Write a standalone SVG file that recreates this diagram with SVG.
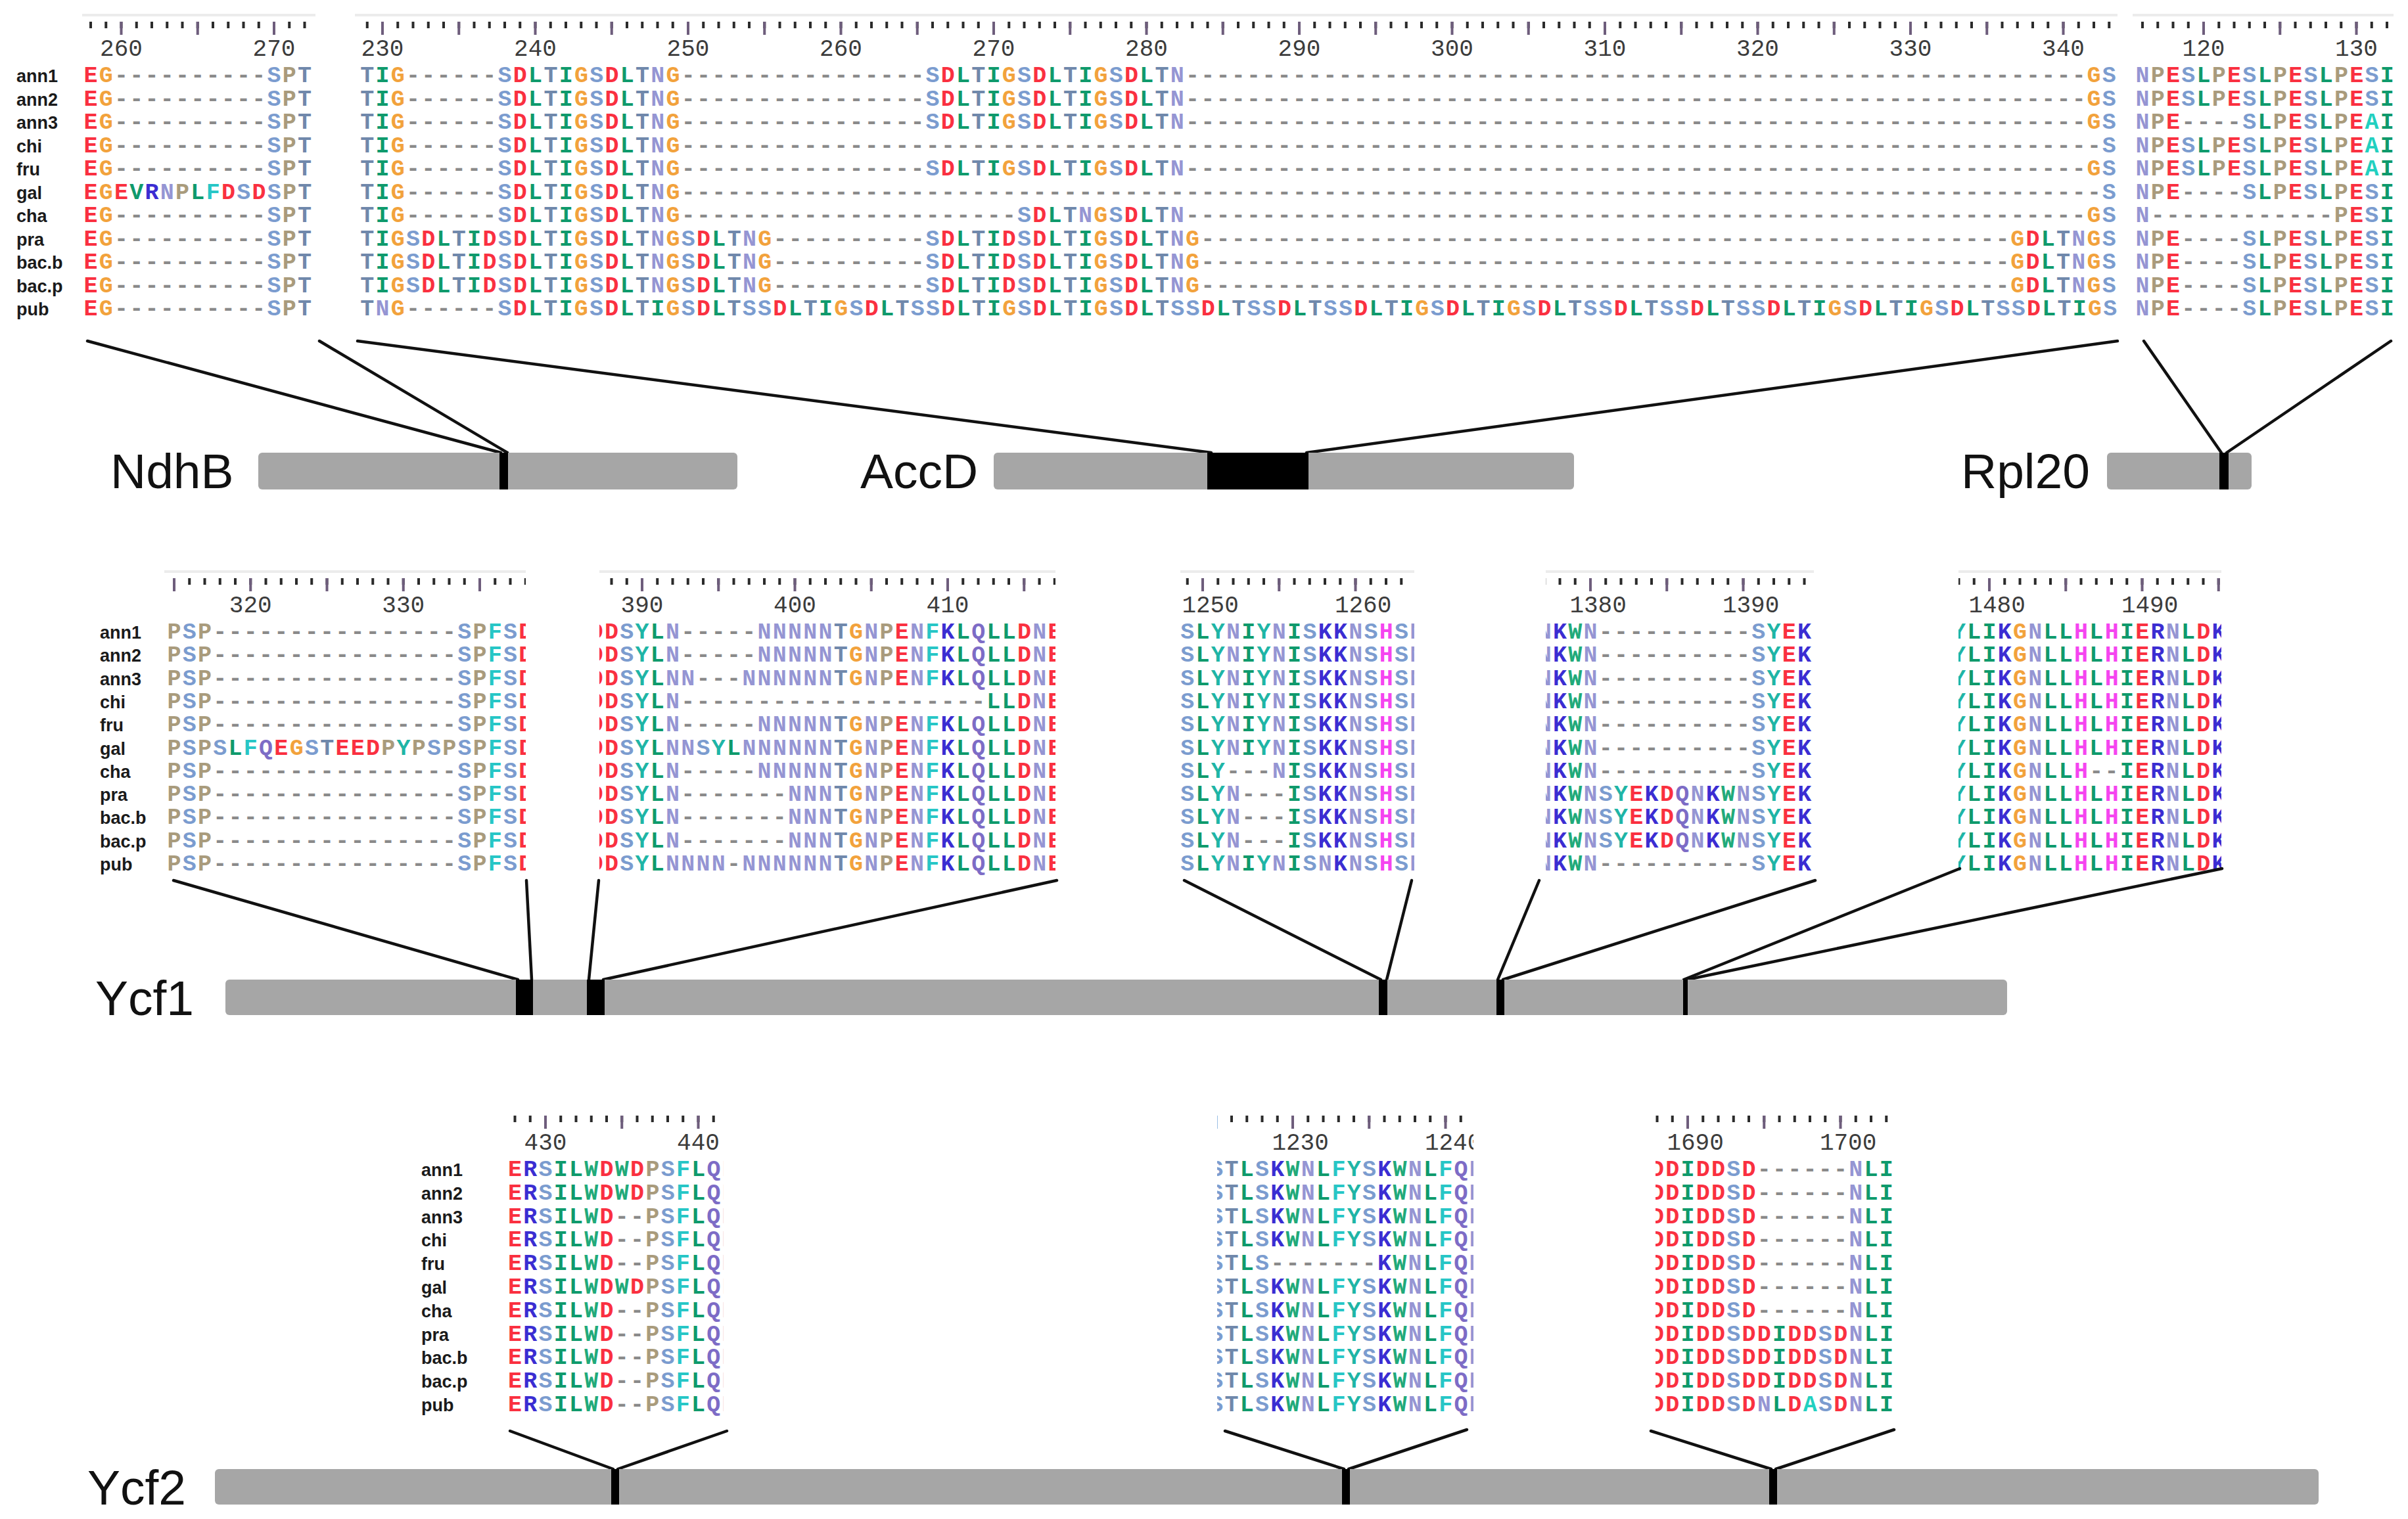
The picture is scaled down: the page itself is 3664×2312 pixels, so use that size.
<svg xmlns="http://www.w3.org/2000/svg" width="3664" height="2312" viewBox="0 0 3664 2312">
<style>
.sq{font-family:"Liberation Mono","DejaVu Sans Mono",monospace;font-size:35px;font-weight:bold;letter-spacing:2.25px;fill:#8a8a8a}
.r{fill:#fa3040}.o{fill:#f2a23c}.s{fill:#7b9ccf}.t{fill:#7088ab}.n{fill:#9595d3}.q{fill:#7d6cc6}.l{fill:#0f9a6c}.y{fill:#1fb5a6}.f{fill:#27c6c6}.a{fill:#22d0c0}.w{fill:#21aa7a}.k{fill:#3b2dd2}.h{fill:#f544f0}.p{fill:#a99b7c}
.nm{font-family:"Liberation Sans",Arial,sans-serif;font-size:27px;font-weight:bold;fill:#1a1a1a}
.num{font-family:"Liberation Mono",monospace;font-size:36px;fill:#3c3c3c;text-anchor:middle}
.gene{font-family:"Liberation Sans",Arial,sans-serif;font-size:75px;fill:#111}
.bar{fill:#a6a6a6}
.mk{fill:#000}
.cn line{stroke:#111;stroke-width:4.5;stroke-linecap:round}
.dt{stroke:#2b2b2b;stroke-width:10;stroke-dasharray:4 19.25}
.bt{stroke:#6e5d7c;stroke-width:20;stroke-dasharray:4 112.25}
.tl{fill:#ececec}
</style>
<defs>
<clipPath id="c1"><rect x="240" y="860" width="560" height="490"/></clipPath>
<clipPath id="c2"><rect x="912" y="860" width="694" height="490"/></clipPath>
<clipPath id="c3"><rect x="1790" y="860" width="362" height="490"/></clipPath>
<clipPath id="c4"><rect x="2352" y="860" width="420" height="490"/></clipPath>
<clipPath id="c5"><rect x="2980" y="860" width="400" height="490"/></clipPath>
<clipPath id="c6"><rect x="760" y="1680" width="341" height="490"/></clipPath>
<clipPath id="c7"><rect x="1852" y="1680" width="390" height="490"/></clipPath>
<clipPath id="c8"><rect x="2519" y="1680" width="370" height="490"/></clipPath>

<text id="ndh0" class="sq"><tspan class="r">E</tspan><tspan class="o">G</tspan>----------<tspan class="s" x="279">S</tspan><tspan class="p">P</tspan><tspan class="t">T</tspan></text>
<text id="ndh1" class="sq"><tspan class="r">E</tspan><tspan class="o">G</tspan><tspan class="r">E</tspan><tspan class="l">V</tspan><tspan class="k">R</tspan><tspan class="n">N</tspan><tspan class="p">P</tspan><tspan class="l">L</tspan><tspan class="f">F</tspan><tspan class="r">D</tspan><tspan class="s">S</tspan><tspan class="r">D</tspan><tspan class="s">S</tspan><tspan class="p">P</tspan><tspan class="t">T</tspan></text>

<text id="acc0" class="sq"><tspan class="t">T</tspan><tspan class="l">I</tspan><tspan class="o">G</tspan>------<tspan class="s">S</tspan><tspan class="r">D</tspan><tspan class="l">L</tspan><tspan class="t">T</tspan><tspan class="l">I</tspan><tspan class="o">G</tspan><tspan class="s">S</tspan><tspan class="r">D</tspan><tspan class="l">L</tspan><tspan class="t">T</tspan><tspan class="n">N</tspan><tspan class="o">G</tspan>----------------<tspan class="s" x="860.25">S</tspan><tspan class="r">D</tspan><tspan class="l">L</tspan><tspan class="t">T</tspan><tspan class="l">I</tspan><tspan class="o">G</tspan><tspan class="s">S</tspan><tspan class="r">D</tspan><tspan class="l">L</tspan><tspan class="t">T</tspan><tspan class="l">I</tspan><tspan class="o">G</tspan><tspan class="s">S</tspan><tspan class="r">D</tspan><tspan class="l">L</tspan><tspan class="t">T</tspan><tspan class="n">N</tspan>-----------------------------------------------------------<tspan class="o" x="2627.25">G</tspan><tspan class="s">S</tspan></text>
<text id="acc1" class="sq"><tspan class="t">T</tspan><tspan class="l">I</tspan><tspan class="o">G</tspan>------<tspan class="s">S</tspan><tspan class="r">D</tspan><tspan class="l">L</tspan><tspan class="t">T</tspan><tspan class="l">I</tspan><tspan class="o">G</tspan><tspan class="s">S</tspan><tspan class="r">D</tspan><tspan class="l">L</tspan><tspan class="t">T</tspan><tspan class="n">N</tspan><tspan class="o">G</tspan>---------------------------------------------------------------------------------------------<tspan class="s" x="2650.5">S</tspan></text>
<text id="acc2" class="sq"><tspan class="t">T</tspan><tspan class="l">I</tspan><tspan class="o">G</tspan>------<tspan class="s">S</tspan><tspan class="r">D</tspan><tspan class="l">L</tspan><tspan class="t">T</tspan><tspan class="l">I</tspan><tspan class="o">G</tspan><tspan class="s">S</tspan><tspan class="r">D</tspan><tspan class="l">L</tspan><tspan class="t">T</tspan><tspan class="n">N</tspan><tspan class="o">G</tspan>----------------------<tspan class="s" x="999.75">S</tspan><tspan class="r">D</tspan><tspan class="l">L</tspan><tspan class="t">T</tspan><tspan class="n">N</tspan><tspan class="o">G</tspan><tspan class="s">S</tspan><tspan class="r">D</tspan><tspan class="l">L</tspan><tspan class="t">T</tspan><tspan class="n">N</tspan>-----------------------------------------------------------<tspan class="o" x="2627.25">G</tspan><tspan class="s">S</tspan></text>
<text id="acc3" class="sq"><tspan class="t">T</tspan><tspan class="l">I</tspan><tspan class="o">G</tspan><tspan class="s">S</tspan><tspan class="r">D</tspan><tspan class="l">L</tspan><tspan class="t">T</tspan><tspan class="l">I</tspan><tspan class="r">D</tspan><tspan class="s">S</tspan><tspan class="r">D</tspan><tspan class="l">L</tspan><tspan class="t">T</tspan><tspan class="l">I</tspan><tspan class="o">G</tspan><tspan class="s">S</tspan><tspan class="r">D</tspan><tspan class="l">L</tspan><tspan class="t">T</tspan><tspan class="n">N</tspan><tspan class="o">G</tspan><tspan class="s">S</tspan><tspan class="r">D</tspan><tspan class="l">L</tspan><tspan class="t">T</tspan><tspan class="n">N</tspan><tspan class="o">G</tspan>----------<tspan class="s" x="860.25">S</tspan><tspan class="r">D</tspan><tspan class="l">L</tspan><tspan class="t">T</tspan><tspan class="l">I</tspan><tspan class="r">D</tspan><tspan class="s">S</tspan><tspan class="r">D</tspan><tspan class="l">L</tspan><tspan class="t">T</tspan><tspan class="l">I</tspan><tspan class="o">G</tspan><tspan class="s">S</tspan><tspan class="r">D</tspan><tspan class="l">L</tspan><tspan class="t">T</tspan><tspan class="n">N</tspan><tspan class="o">G</tspan>-----------------------------------------------------<tspan class="o" x="2511">G</tspan><tspan class="r">D</tspan><tspan class="l">L</tspan><tspan class="t">T</tspan><tspan class="n">N</tspan><tspan class="o">G</tspan><tspan class="s">S</tspan></text>
<text id="acc4" class="sq"><tspan class="t">T</tspan><tspan class="n">N</tspan><tspan class="o">G</tspan>------<tspan class="s" x="209.25">S</tspan><tspan class="r">D</tspan><tspan class="l">L</tspan><tspan class="t">T</tspan><tspan class="l">I</tspan><tspan class="o">G</tspan><tspan class="s">S</tspan><tspan class="r">D</tspan><tspan class="l">L</tspan><tspan class="t">T</tspan><tspan class="l">I</tspan><tspan class="o">G</tspan><tspan class="s">S</tspan><tspan class="r">D</tspan><tspan class="l">L</tspan><tspan class="t">T</tspan><tspan class="s">SS</tspan><tspan class="r">D</tspan><tspan class="l">L</tspan><tspan class="t">T</tspan><tspan class="l">I</tspan><tspan class="o">G</tspan><tspan class="s">S</tspan><tspan class="r">D</tspan><tspan class="l">L</tspan><tspan class="t">T</tspan><tspan class="s">SS</tspan><tspan class="r">D</tspan><tspan class="l">L</tspan><tspan class="t">T</tspan><tspan class="l">I</tspan><tspan class="o">G</tspan><tspan class="s">S</tspan><tspan class="r">D</tspan><tspan class="l">L</tspan><tspan class="t">T</tspan><tspan class="l">I</tspan><tspan class="o">G</tspan><tspan class="s">S</tspan><tspan class="r">D</tspan><tspan class="l">L</tspan><tspan class="t">T</tspan><tspan class="s">SS</tspan><tspan class="r">D</tspan><tspan class="l">L</tspan><tspan class="t">T</tspan><tspan class="s">SS</tspan><tspan class="r">D</tspan><tspan class="l">L</tspan><tspan class="t">T</tspan><tspan class="s">SS</tspan><tspan class="r">D</tspan><tspan class="l">L</tspan><tspan class="t">T</tspan><tspan class="l">I</tspan><tspan class="o">G</tspan><tspan class="s">S</tspan><tspan class="r">D</tspan><tspan class="l">L</tspan><tspan class="t">T</tspan><tspan class="l">I</tspan><tspan class="o">G</tspan><tspan class="s">S</tspan><tspan class="r">D</tspan><tspan class="l">L</tspan><tspan class="t">T</tspan><tspan class="s">SS</tspan><tspan class="r">D</tspan><tspan class="l">L</tspan><tspan class="t">T</tspan><tspan class="s">SS</tspan><tspan class="r">D</tspan><tspan class="l">L</tspan><tspan class="t">T</tspan><tspan class="s">SS</tspan><tspan class="r">D</tspan><tspan class="l">L</tspan><tspan class="t">T</tspan><tspan class="l">I</tspan><tspan class="o">G</tspan><tspan class="s">S</tspan><tspan class="r">D</tspan><tspan class="l">L</tspan><tspan class="t">T</tspan><tspan class="l">I</tspan><tspan class="o">G</tspan><tspan class="s">S</tspan><tspan class="r">D</tspan><tspan class="l">L</tspan><tspan class="t">T</tspan><tspan class="s">SS</tspan><tspan class="r">D</tspan><tspan class="l">L</tspan><tspan class="t">T</tspan><tspan class="l">I</tspan><tspan class="o">G</tspan><tspan class="s">S</tspan></text>

<text id="rpA" class="sq"><tspan class="n">N</tspan><tspan class="p">P</tspan><tspan class="r">E</tspan><tspan class="s">S</tspan><tspan class="l">L</tspan><tspan class="p">P</tspan><tspan class="r">E</tspan><tspan class="s">S</tspan><tspan class="l">L</tspan><tspan class="p">P</tspan><tspan class="r">E</tspan><tspan class="s">S</tspan><tspan class="l">L</tspan><tspan class="p">P</tspan><tspan class="r">E</tspan><tspan class="s">S</tspan><tspan class="l">I</tspan></text>
<text id="rpB" class="sq"><tspan class="n">N</tspan><tspan class="p">P</tspan><tspan class="r">E</tspan>----<tspan class="s" x="162.75">S</tspan><tspan class="l">L</tspan><tspan class="p">P</tspan><tspan class="r">E</tspan><tspan class="s">S</tspan><tspan class="l">L</tspan><tspan class="p">P</tspan><tspan class="r">E</tspan><tspan class="a">A</tspan><tspan class="l">I</tspan></text>
<text id="rpC" class="sq"><tspan class="n">N</tspan><tspan class="p">P</tspan><tspan class="r">E</tspan><tspan class="s">S</tspan><tspan class="l">L</tspan><tspan class="p">P</tspan><tspan class="r">E</tspan><tspan class="s">S</tspan><tspan class="l">L</tspan><tspan class="p">P</tspan><tspan class="r">E</tspan><tspan class="s">S</tspan><tspan class="l">L</tspan><tspan class="p">P</tspan><tspan class="r">E</tspan><tspan class="a">A</tspan><tspan class="l">I</tspan></text>
<text id="rpD" class="sq"><tspan class="n">N</tspan><tspan class="p">P</tspan><tspan class="r">E</tspan>----<tspan class="s" x="162.75">S</tspan><tspan class="l">L</tspan><tspan class="p">P</tspan><tspan class="r">E</tspan><tspan class="s">S</tspan><tspan class="l">L</tspan><tspan class="p">P</tspan><tspan class="r">E</tspan><tspan class="s">S</tspan><tspan class="l">I</tspan></text>
<text id="rpE" class="sq"><tspan class="n">N</tspan>------------<tspan class="p" x="302.25">P</tspan><tspan class="r">E</tspan><tspan class="s">S</tspan><tspan class="l">I</tspan></text>

<text id="yaA" class="sq"><tspan class="p">P</tspan><tspan class="s">S</tspan><tspan class="p">P</tspan>----------------<tspan class="s" x="441.75">S</tspan><tspan class="p">P</tspan><tspan class="f">F</tspan><tspan class="s">S</tspan><tspan class="r">D</tspan></text>
<text id="yaB" class="sq"><tspan class="p">P</tspan><tspan class="s">S</tspan><tspan class="p">P</tspan><tspan class="s">S</tspan><tspan class="l">L</tspan><tspan class="f">F</tspan><tspan class="q">Q</tspan><tspan class="r">E</tspan><tspan class="o">G</tspan><tspan class="s">S</tspan><tspan class="t">T</tspan><tspan class="r">EED</tspan><tspan class="p">P</tspan><tspan class="y">Y</tspan><tspan class="p">P</tspan><tspan class="s">S</tspan><tspan class="p">P</tspan><tspan class="s">S</tspan><tspan class="p">P</tspan><tspan class="f">F</tspan><tspan class="s">S</tspan><tspan class="r">D</tspan></text>

<text id="ybA" class="sq"><tspan class="r">DD</tspan><tspan class="s">S</tspan><tspan class="y">Y</tspan><tspan class="l">L</tspan><tspan class="n">N</tspan>-----<tspan class="n" x="255.75">NNNNN</tspan><tspan class="t" x="372">T</tspan><tspan class="o">G</tspan><tspan class="n">N</tspan><tspan class="p">P</tspan><tspan class="r">E</tspan><tspan class="n">N</tspan><tspan class="f">F</tspan><tspan class="k">K</tspan><tspan class="l">L</tspan><tspan class="q">Q</tspan><tspan class="l">LL</tspan><tspan class="r">D</tspan><tspan class="n">N</tspan><tspan class="r">E</tspan></text>
<text id="ybB" class="sq"><tspan class="r">DD</tspan><tspan class="s">S</tspan><tspan class="y">Y</tspan><tspan class="l">L</tspan><tspan class="n">NN</tspan>---<tspan class="n" x="232.5">NNNNNN</tspan><tspan class="t" x="372">T</tspan><tspan class="o">G</tspan><tspan class="n">N</tspan><tspan class="p">P</tspan><tspan class="r">E</tspan><tspan class="n">N</tspan><tspan class="f">F</tspan><tspan class="k">K</tspan><tspan class="l">L</tspan><tspan class="q">Q</tspan><tspan class="l">LL</tspan><tspan class="r">D</tspan><tspan class="n">N</tspan><tspan class="r">E</tspan></text>
<text id="ybC" class="sq"><tspan class="r">DD</tspan><tspan class="s">S</tspan><tspan class="y">Y</tspan><tspan class="l">L</tspan><tspan class="n">N</tspan>--------------------<tspan class="l" x="604.5">LL</tspan><tspan class="r">D</tspan><tspan class="n">N</tspan><tspan class="r">E</tspan></text>
<text id="ybD" class="sq"><tspan class="r">DD</tspan><tspan class="s">S</tspan><tspan class="y">Y</tspan><tspan class="l">L</tspan><tspan class="n">NN</tspan><tspan class="s">S</tspan><tspan class="y">Y</tspan><tspan class="l">L</tspan><tspan class="n">NNNNNN</tspan><tspan class="t" x="372">T</tspan><tspan class="o">G</tspan><tspan class="n">N</tspan><tspan class="p">P</tspan><tspan class="r">E</tspan><tspan class="n">N</tspan><tspan class="f">F</tspan><tspan class="k">K</tspan><tspan class="l">L</tspan><tspan class="q">Q</tspan><tspan class="l">LL</tspan><tspan class="r">D</tspan><tspan class="n">N</tspan><tspan class="r">E</tspan></text>
<text id="ybE" class="sq"><tspan class="r">DD</tspan><tspan class="s">S</tspan><tspan class="y">Y</tspan><tspan class="l">L</tspan><tspan class="n">N</tspan>-------<tspan class="n" x="302.25">NNN</tspan><tspan class="t" x="372">T</tspan><tspan class="o">G</tspan><tspan class="n">N</tspan><tspan class="p">P</tspan><tspan class="r">E</tspan><tspan class="n">N</tspan><tspan class="f">F</tspan><tspan class="k">K</tspan><tspan class="l">L</tspan><tspan class="q">Q</tspan><tspan class="l">LL</tspan><tspan class="r">D</tspan><tspan class="n">N</tspan><tspan class="r">E</tspan></text>
<text id="ybF" class="sq"><tspan class="r">DD</tspan><tspan class="s">S</tspan><tspan class="y">Y</tspan><tspan class="l">L</tspan><tspan class="n">NNNN</tspan>-<tspan class="n">NNNNNN</tspan><tspan class="t" x="372">T</tspan><tspan class="o">G</tspan><tspan class="n">N</tspan><tspan class="p">P</tspan><tspan class="r">E</tspan><tspan class="n">N</tspan><tspan class="f">F</tspan><tspan class="k">K</tspan><tspan class="l">L</tspan><tspan class="q">Q</tspan><tspan class="l">LL</tspan><tspan class="r">D</tspan><tspan class="n">N</tspan><tspan class="r">E</tspan></text>

<text id="ycA" class="sq"><tspan class="s">S</tspan><tspan class="l">L</tspan><tspan class="y">Y</tspan><tspan class="n">N</tspan><tspan class="l">I</tspan><tspan class="y">Y</tspan><tspan class="n">N</tspan><tspan class="l">I</tspan><tspan class="s">S</tspan><tspan class="k">KK</tspan><tspan class="n">N</tspan><tspan class="s">S</tspan><tspan class="h">H</tspan><tspan class="s">S</tspan><tspan class="n">N</tspan></text>
<text id="ycB" class="sq"><tspan class="s">S</tspan><tspan class="l">L</tspan><tspan class="y">Y</tspan>---<tspan class="n" x="139.5">N</tspan><tspan class="l">I</tspan><tspan class="s">S</tspan><tspan class="k">KK</tspan><tspan class="n">N</tspan><tspan class="s">S</tspan><tspan class="h">H</tspan><tspan class="s">S</tspan><tspan class="n">N</tspan></text>
<text id="ycC" class="sq"><tspan class="s">S</tspan><tspan class="l">L</tspan><tspan class="y">Y</tspan><tspan class="n">N</tspan>---<tspan class="l" x="162.75">I</tspan><tspan class="s">S</tspan><tspan class="k">KK</tspan><tspan class="n">N</tspan><tspan class="s">S</tspan><tspan class="h">H</tspan><tspan class="s">S</tspan><tspan class="n">N</tspan></text>
<text id="ycD" class="sq"><tspan class="s">S</tspan><tspan class="l">L</tspan><tspan class="y">Y</tspan><tspan class="n">N</tspan><tspan class="l">I</tspan><tspan class="y">Y</tspan><tspan class="n">N</tspan><tspan class="l">I</tspan><tspan class="s">S</tspan><tspan class="n">N</tspan><tspan class="k">K</tspan><tspan class="n">N</tspan><tspan class="s">S</tspan><tspan class="h">H</tspan><tspan class="s">S</tspan><tspan class="n">N</tspan></text>

<text id="ydA" class="sq"><tspan class="n">N</tspan><tspan class="k">K</tspan><tspan class="w">W</tspan><tspan class="n">N</tspan>----------<tspan class="s" x="325.5">S</tspan><tspan class="y">Y</tspan><tspan class="r">E</tspan><tspan class="k">K</tspan></text>
<text id="ydB" class="sq"><tspan class="n">N</tspan><tspan class="k">K</tspan><tspan class="w">W</tspan><tspan class="n">N</tspan><tspan class="s">S</tspan><tspan class="y">Y</tspan><tspan class="r">E</tspan><tspan class="k">K</tspan><tspan class="r">D</tspan><tspan class="q">Q</tspan><tspan class="n">N</tspan><tspan class="k">K</tspan><tspan class="w">W</tspan><tspan class="n">N</tspan><tspan class="s">S</tspan><tspan class="y">Y</tspan><tspan class="r">E</tspan><tspan class="k">K</tspan></text>

<text id="yeA" class="sq"><tspan class="y">Y</tspan><tspan class="l">LI</tspan><tspan class="k">K</tspan><tspan class="o">G</tspan><tspan class="n">N</tspan><tspan class="l">LL</tspan><tspan class="h">H</tspan><tspan class="l">L</tspan><tspan class="h">H</tspan><tspan class="l">I</tspan><tspan class="r">E</tspan><tspan class="k">R</tspan><tspan class="n">N</tspan><tspan class="l">L</tspan><tspan class="r">D</tspan><tspan class="k">K</tspan></text>
<text id="yeB" class="sq"><tspan class="y">Y</tspan><tspan class="l">LI</tspan><tspan class="k">K</tspan><tspan class="o">G</tspan><tspan class="n">N</tspan><tspan class="l">LL</tspan><tspan class="h">H</tspan>--<tspan class="l" x="255.75">I</tspan><tspan class="r">E</tspan><tspan class="k">R</tspan><tspan class="n">N</tspan><tspan class="l">L</tspan><tspan class="r">D</tspan><tspan class="k">K</tspan></text>

<text id="yfA" class="sq"><tspan class="r">E</tspan><tspan class="k">R</tspan><tspan class="s">S</tspan><tspan class="l">IL</tspan><tspan class="w">W</tspan><tspan class="r">D</tspan><tspan class="w">W</tspan><tspan class="r">D</tspan><tspan class="p">P</tspan><tspan class="s">S</tspan><tspan class="f">F</tspan><tspan class="l">L</tspan><tspan class="q">Q</tspan><tspan class="n">N</tspan></text>
<text id="yfB" class="sq"><tspan class="r">E</tspan><tspan class="k">R</tspan><tspan class="s">S</tspan><tspan class="l">IL</tspan><tspan class="w">W</tspan><tspan class="r">D</tspan>--<tspan class="p" x="209.25">P</tspan><tspan class="s">S</tspan><tspan class="f">F</tspan><tspan class="l">L</tspan><tspan class="q">Q</tspan><tspan class="n">N</tspan></text>

<text id="ygA" class="sq"><tspan class="s">S</tspan><tspan class="t">T</tspan><tspan class="l">L</tspan><tspan class="s">S</tspan><tspan class="k">K</tspan><tspan class="w">W</tspan><tspan class="n">N</tspan><tspan class="l">L</tspan><tspan class="f">F</tspan><tspan class="y">Y</tspan><tspan class="s">S</tspan><tspan class="k">K</tspan><tspan class="w">W</tspan><tspan class="n">N</tspan><tspan class="l">L</tspan><tspan class="f">F</tspan><tspan class="q">Q</tspan><tspan class="n">N</tspan></text>
<text id="ygB" class="sq"><tspan class="s">S</tspan><tspan class="t">T</tspan><tspan class="l">L</tspan><tspan class="s">S</tspan>-------<tspan class="k" x="255.75">K</tspan><tspan class="w">W</tspan><tspan class="n">N</tspan><tspan class="l">L</tspan><tspan class="f">F</tspan><tspan class="q">Q</tspan><tspan class="n">N</tspan></text>

<text id="yhA" class="sq"><tspan class="r">DD</tspan><tspan class="l">I</tspan><tspan class="r">DD</tspan><tspan class="s">S</tspan><tspan class="r">D</tspan>------<tspan class="n" x="302.25">N</tspan><tspan class="l">LI</tspan></text>
<text id="yhB" class="sq"><tspan class="r">DD</tspan><tspan class="l">I</tspan><tspan class="r">DD</tspan><tspan class="s">S</tspan><tspan class="r">DD</tspan><tspan class="l">I</tspan><tspan class="r">DD</tspan><tspan class="s">S</tspan><tspan class="r">D</tspan><tspan class="n">N</tspan><tspan class="l">LI</tspan></text>
<text id="yhC" class="sq"><tspan class="r">DD</tspan><tspan class="l">I</tspan><tspan class="r">DD</tspan><tspan class="s">S</tspan><tspan class="r">D</tspan><tspan class="n">N</tspan><tspan class="l">L</tspan><tspan class="r">D</tspan><tspan class="a">A</tspan><tspan class="s">S</tspan><tspan class="r">D</tspan><tspan class="n">N</tspan><tspan class="l">LI</tspan></text>
</defs>

<rect width="3664" height="2312" fill="#fff"/>

<!-- species names -->
<g id="names-top" class="nm">
<text x="25" y="125">ann1</text><text x="25" y="160.5">ann2</text><text x="25" y="196">ann3</text><text x="25" y="231.5">chi</text><text x="25" y="267">fru</text><text x="25" y="302.5">gal</text><text x="25" y="338">cha</text><text x="25" y="373.5">pra</text><text x="25" y="409">bac.b</text><text x="25" y="444.5">bac.p</text><text x="25" y="480">pub</text>
</g>
<g id="names-mid" class="nm">
<text x="152" y="972">ann1</text><text x="152" y="1007.3">ann2</text><text x="152" y="1042.6">ann3</text><text x="152" y="1077.9">chi</text><text x="152" y="1113.2">fru</text><text x="152" y="1148.5">gal</text><text x="152" y="1183.8">cha</text><text x="152" y="1219.1">pra</text><text x="152" y="1254.4">bac.b</text><text x="152" y="1289.7">bac.p</text><text x="152" y="1325">pub</text>
</g>
<g id="names-bot" class="nm">
<text x="641" y="1790">ann1</text><text x="641" y="1825.8">ann2</text><text x="641" y="1861.6">ann3</text><text x="641" y="1897.4">chi</text><text x="641" y="1933.2">fru</text><text x="641" y="1969">gal</text><text x="641" y="2004.8">cha</text><text x="641" y="2040.6">pra</text><text x="641" y="2076.4">bac.b</text><text x="641" y="2112.2">bac.p</text><text x="641" y="2148">pub</text>
</g>

<!-- NdhB alignment -->
<g id="aln-ndhb">
<rect class="tl" x="125" y="21" width="355" height="4"/>
<line class="dt" x1="136" y1="38" x2="465.5" y2="38"/>
<line class="bt" x1="182.5" y1="43" x2="419" y2="43"/>
<text class="num" x="184.5" y="85">260</text><text class="num" x="417" y="85">270</text>
<use href="#ndh0" x="127.5" y="125"/><use href="#ndh0" x="127.5" y="160.5"/><use href="#ndh0" x="127.5" y="196"/><use href="#ndh0" x="127.5" y="231.5"/><use href="#ndh0" x="127.5" y="267"/><use href="#ndh1" x="127.5" y="302.5"/><use href="#ndh0" x="127.5" y="338"/><use href="#ndh0" x="127.5" y="373.5"/><use href="#ndh0" x="127.5" y="409"/><use href="#ndh0" x="127.5" y="444.5"/><use href="#ndh0" x="127.5" y="480"/>
</g>

<!-- AccD alignment -->
<g id="aln-accd">
<rect class="tl" x="540" y="21" width="2682" height="4"/>
<line class="dt" x1="556.75" y1="38" x2="3211.25" y2="38"/>
<line class="bt" x1="580" y1="43" x2="3141.5" y2="43"/>
<text class="num" x="582" y="85">230</text><text class="num" x="814.5" y="85">240</text><text class="num" x="1047" y="85">250</text><text class="num" x="1279.5" y="85">260</text><text class="num" x="1512" y="85">270</text><text class="num" x="1744.5" y="85">280</text><text class="num" x="1977" y="85">290</text><text class="num" x="2209.5" y="85">300</text><text class="num" x="2442" y="85">310</text><text class="num" x="2674.5" y="85">320</text><text class="num" x="2907" y="85">330</text><text class="num" x="3139.5" y="85">340</text>
<use href="#acc0" x="548.25" y="125"/><use href="#acc0" x="548.25" y="160.5"/><use href="#acc0" x="548.25" y="196"/><use href="#acc1" x="548.25" y="231.5"/><use href="#acc0" x="548.25" y="267"/><use href="#acc1" x="548.25" y="302.5"/><use href="#acc2" x="548.25" y="338"/><use href="#acc3" x="548.25" y="373.5"/><use href="#acc3" x="548.25" y="409"/><use href="#acc3" x="548.25" y="444.5"/><use href="#acc4" x="548.25" y="480"/>
</g>

<!-- Rpl20 alignment -->
<g id="aln-rpl20">
<rect class="tl" x="3245" y="21" width="397" height="4"/>
<line class="dt" x1="3258" y1="38" x2="3634" y2="38"/>
<line class="bt" x1="3351" y1="43" x2="3587.5" y2="43"/>
<text class="num" x="3353" y="85">120</text><text class="num" x="3585.5" y="85">130</text>
<use href="#rpA" x="3249.5" y="125"/><use href="#rpA" x="3249.5" y="160.5"/><use href="#rpB" x="3249.5" y="196"/><use href="#rpC" x="3249.5" y="231.5"/><use href="#rpC" x="3249.5" y="267"/><use href="#rpD" x="3249.5" y="302.5"/><use href="#rpE" x="3249.5" y="338"/><use href="#rpD" x="3249.5" y="373.5"/><use href="#rpD" x="3249.5" y="409"/><use href="#rpD" x="3249.5" y="444.5"/><use href="#rpD" x="3249.5" y="480"/>
</g>

<!-- Ycf1 alignments -->
<g id="aln-ycf1-a" clip-path="url(#c1)">
<rect class="tl" x="250" y="868" width="550" height="4"/>
<line class="dt" x1="263" y1="885" x2="801.75" y2="885"/>
<line class="bt" x1="263" y1="890" x2="732" y2="890"/>
<text class="num" x="381.25" y="932">320</text><text class="num" x="613.75" y="932">330</text>
<use href="#yaA" x="254.5" y="972"/><use href="#yaA" x="254.5" y="1007.3"/><use href="#yaA" x="254.5" y="1042.6"/><use href="#yaA" x="254.5" y="1077.9"/><use href="#yaA" x="254.5" y="1113.2"/><use href="#yaB" x="254.5" y="1148.5"/><use href="#yaA" x="254.5" y="1183.8"/><use href="#yaA" x="254.5" y="1219.1"/><use href="#yaA" x="254.5" y="1254.4"/><use href="#yaA" x="254.5" y="1289.7"/><use href="#yaA" x="254.5" y="1325"/>
</g>
<g id="aln-ycf1-b" clip-path="url(#c2)">
<rect class="tl" x="912" y="868" width="694" height="4"/>
<line class="dt" x1="928.5" y1="885" x2="1606.75" y2="885"/>
<line class="bt" x1="975" y1="890" x2="1560.25" y2="890"/>
<text class="num" x="977" y="932">390</text><text class="num" x="1209.5" y="932">400</text><text class="num" x="1442" y="932">410</text>
<use href="#ybA" x="896.75" y="972"/><use href="#ybA" x="896.75" y="1007.3"/><use href="#ybB" x="896.75" y="1042.6"/><use href="#ybC" x="896.75" y="1077.9"/><use href="#ybA" x="896.75" y="1113.2"/><use href="#ybD" x="896.75" y="1148.5"/><use href="#ybA" x="896.75" y="1183.8"/><use href="#ybE" x="896.75" y="1219.1"/><use href="#ybE" x="896.75" y="1254.4"/><use href="#ybE" x="896.75" y="1289.7"/><use href="#ybF" x="896.75" y="1325"/>
</g>
<g id="aln-ycf1-c" clip-path="url(#c3)">
<rect class="tl" x="1796" y="868" width="356" height="4"/>
<line class="dt" x1="1804.75" y1="885" x2="2134.25" y2="885"/>
<line class="bt" x1="1828" y1="890" x2="2064.5" y2="890"/>
<text class="num" x="1841.6" y="932">1250</text><text class="num" x="2074.1" y="932">1260</text>
<use href="#ycA" x="1796.25" y="972"/><use href="#ycA" x="1796.25" y="1007.3"/><use href="#ycA" x="1796.25" y="1042.6"/><use href="#ycA" x="1796.25" y="1077.9"/><use href="#ycA" x="1796.25" y="1113.2"/><use href="#ycA" x="1796.25" y="1148.5"/><use href="#ycB" x="1796.25" y="1183.8"/><use href="#ycC" x="1796.25" y="1219.1"/><use href="#ycC" x="1796.25" y="1254.4"/><use href="#ycC" x="1796.25" y="1289.7"/><use href="#ycD" x="1796.25" y="1325"/>
</g>
<g id="aln-ycf1-d" clip-path="url(#c4)">
<rect class="tl" x="2352" y="868" width="408" height="4"/>
<line class="dt" x1="2348.25" y1="885" x2="2747.5" y2="885"/>
<line class="bt" x1="2418" y1="890" x2="2654.5" y2="890"/>
<text class="num" x="2431.6" y="932">1380</text><text class="num" x="2664.1" y="932">1390</text>
<use href="#ydA" x="2339.75" y="972"/><use href="#ydA" x="2339.75" y="1007.3"/><use href="#ydA" x="2339.75" y="1042.6"/><use href="#ydA" x="2339.75" y="1077.9"/><use href="#ydA" x="2339.75" y="1113.2"/><use href="#ydA" x="2339.75" y="1148.5"/><use href="#ydA" x="2339.75" y="1183.8"/><use href="#ydB" x="2339.75" y="1219.1"/><use href="#ydB" x="2339.75" y="1254.4"/><use href="#ydB" x="2339.75" y="1289.7"/><use href="#ydA" x="2339.75" y="1325"/>
</g>
<g id="aln-ycf1-e" clip-path="url(#c5)">
<rect class="tl" x="2980" y="868" width="400" height="4"/>
<line class="dt" x1="2978.5" y1="885" x2="3377.75" y2="885"/>
<line class="bt" x1="3025" y1="890" x2="3377.75" y2="890"/>
<text class="num" x="3038.6" y="932">1480</text><text class="num" x="3271.1" y="932">1490</text>
<use href="#yeA" x="2970" y="972"/><use href="#yeA" x="2970" y="1007.3"/><use href="#yeA" x="2970" y="1042.6"/><use href="#yeA" x="2970" y="1077.9"/><use href="#yeA" x="2970" y="1113.2"/><use href="#yeA" x="2970" y="1148.5"/><use href="#yeB" x="2970" y="1183.8"/><use href="#yeA" x="2970" y="1219.1"/><use href="#yeA" x="2970" y="1254.4"/><use href="#yeA" x="2970" y="1289.7"/><use href="#yeA" x="2970" y="1325"/>
</g>

<!-- Ycf2 alignments -->
<g id="aln-ycf2-a" clip-path="url(#c6)">
<line class="dt" x1="781.5" y1="1703" x2="1087.75" y2="1703"/>
<line class="bt" x1="828" y1="1708" x2="1064.5" y2="1708"/>
<text class="num" x="830" y="1750">430</text><text class="num" x="1062.5" y="1750">440</text>
<use href="#yfA" x="773" y="1790"/><use href="#yfA" x="773" y="1825.8"/><use href="#yfB" x="773" y="1861.6"/><use href="#yfB" x="773" y="1897.4"/><use href="#yfB" x="773" y="1933.2"/><use href="#yfA" x="773" y="1969"/><use href="#yfB" x="773" y="2004.8"/><use href="#yfB" x="773" y="2040.6"/><use href="#yfB" x="773" y="2076.4"/><use href="#yfB" x="773" y="2112.2"/><use href="#yfB" x="773" y="2148"/>
</g>
<g id="aln-ycf2-b" clip-path="url(#c7)">
<rect x="1849" y="1698" width="4" height="20" fill="#9cc0e4"/>
<line class="dt" x1="1872" y1="1703" x2="2224.75" y2="1703"/>
<line class="bt" x1="1965" y1="1708" x2="2201.5" y2="1708"/>
<text class="num" x="1978.6" y="1750">1230</text><text class="num" x="2211.1" y="1750">1240</text>
<use href="#ygA" x="1840.25" y="1790"/><use href="#ygA" x="1840.25" y="1825.8"/><use href="#ygA" x="1840.25" y="1861.6"/><use href="#ygA" x="1840.25" y="1897.4"/><use href="#ygB" x="1840.25" y="1933.2"/><use href="#ygA" x="1840.25" y="1969"/><use href="#ygA" x="1840.25" y="2004.8"/><use href="#ygA" x="1840.25" y="2040.6"/><use href="#ygA" x="1840.25" y="2076.4"/><use href="#ygA" x="1840.25" y="2112.2"/><use href="#ygA" x="1840.25" y="2148"/>
</g>
<g id="aln-ycf2-c" clip-path="url(#c8)">
<line class="dt" x1="2519.5" y1="1703" x2="2872.25" y2="1703"/>
<line class="bt" x1="2566" y1="1708" x2="2802.5" y2="1708"/>
<text class="num" x="2579.6" y="1750">1690</text><text class="num" x="2812.1" y="1750">1700</text>
<use href="#yhA" x="2511" y="1790"/><use href="#yhA" x="2511" y="1825.8"/><use href="#yhA" x="2511" y="1861.6"/><use href="#yhA" x="2511" y="1897.4"/><use href="#yhA" x="2511" y="1933.2"/><use href="#yhA" x="2511" y="1969"/><use href="#yhA" x="2511" y="2004.8"/><use href="#yhB" x="2511" y="2040.6"/><use href="#yhB" x="2511" y="2076.4"/><use href="#yhB" x="2511" y="2112.2"/><use href="#yhC" x="2511" y="2148"/>
</g>

<!-- connectors -->
<g id="connectors" class="cn">
<line x1="133" y1="519" x2="762" y2="689"/><line x1="486" y1="519" x2="772" y2="689"/>
<line x1="544" y1="519" x2="1843" y2="689"/><line x1="3222" y1="519" x2="1988" y2="689"/>
<line x1="3262" y1="519" x2="3380" y2="689"/><line x1="3638" y1="519" x2="3388" y2="689"/>
<line x1="264" y1="1340" x2="788" y2="1491"/><line x1="801" y1="1340" x2="809" y2="1491"/>
<line x1="911" y1="1340" x2="896" y2="1491"/><line x1="1608" y1="1340" x2="918" y2="1491"/>
<line x1="1802" y1="1340" x2="2101" y2="1491"/><line x1="2148" y1="1340" x2="2110" y2="1491"/>
<line x1="2342" y1="1340" x2="2279" y2="1491"/><line x1="2762" y1="1340" x2="2287" y2="1491"/>
<line x1="2982" y1="1322" x2="2562" y2="1491"/><line x1="3381" y1="1322" x2="2567" y2="1491"/>
<line x1="776" y1="2178" x2="933" y2="2236"/><line x1="1106" y1="2178" x2="940" y2="2236"/>
<line x1="1864" y1="2178" x2="2045" y2="2236"/><line x1="2232" y1="2176" x2="2052" y2="2236"/>
<line x1="2512" y1="2178" x2="2695" y2="2236"/><line x1="2882" y1="2176" x2="2702" y2="2236"/>
</g>

<!-- genes -->
<g id="gene-ndhb">
<text class="gene" x="168" y="743">NdhB</text>
<rect class="bar" x="393" y="689" width="729" height="56" rx="6"/>
<rect class="mk" x="760" y="689" width="13" height="56"/>
</g>
<g id="gene-accd">
<text class="gene" x="1309" y="743">AccD</text>
<rect class="bar" x="1512" y="689" width="883" height="56" rx="6"/>
<rect class="mk" x="1837" y="689" width="154" height="56"/>
</g>
<g id="gene-rpl20">
<text class="gene" x="2984" y="743">Rpl20</text>
<rect class="bar" x="3206" y="689" width="220" height="56" rx="6"/>
<rect class="mk" x="3377" y="689" width="14" height="56"/>
</g>
<g id="gene-ycf1">
<text class="gene" x="145" y="1545">Ycf1</text>
<rect class="bar" x="343" y="1491" width="2711" height="54" rx="6"/>
<rect class="mk" x="785" y="1491" width="26" height="54"/>
<rect class="mk" x="893" y="1491" width="27" height="54"/>
<rect class="mk" x="2098" y="1491" width="13" height="54"/>
<rect class="mk" x="2277" y="1491" width="12" height="54"/>
<rect class="mk" x="2561" y="1491" width="7" height="54"/>
</g>
<g id="gene-ycf2">
<text class="gene" x="133" y="2290">Ycf2</text>
<rect class="bar" x="327" y="2236" width="3201" height="54" rx="6"/>
<rect class="mk" x="930" y="2236" width="12" height="54"/>
<rect class="mk" x="2042" y="2236" width="12" height="54"/>
<rect class="mk" x="2692" y="2236" width="12" height="54"/>
</g>
</svg>
